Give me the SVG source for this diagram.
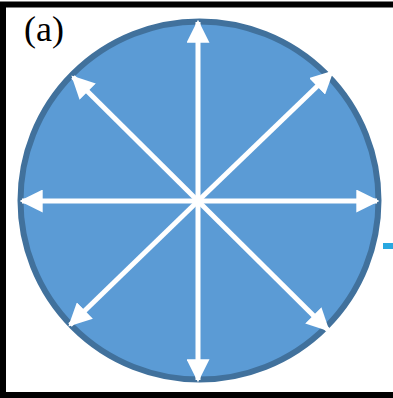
<svg xmlns="http://www.w3.org/2000/svg" width="393" height="398" viewBox="0 0 393 398">
<defs>
<style>
.arr{stroke:#fff;stroke-width:5;fill:none;marker-end:url(#ah)}
</style>
<marker id="ah" viewBox="0 0 10 10" refX="9" refY="5" markerUnits="userSpaceOnUse" markerWidth="23" markerHeight="23" orient="auto">
<path d="M0,0 L10,5 L0,10 Z" fill="#fff"/>
</marker>
</defs>
<rect x="0" y="0" width="393" height="398" fill="#fff"/>
<path d="M393,4.5 H3 V395 H393" fill="none" stroke="#000" stroke-width="6"/>
<rect x="383" y="243" width="10" height="6" fill="#29A8E0"/>
<g id="circle">
<circle cx="199.5" cy="200.5" r="179" fill="#5B9BD5" stroke="#41719C" stroke-width="6"/>
</g>
<g id="connectors">
<line class="arr" x1="198" y1="201" x2="198" y2="22"/>
<line class="arr" x1="198" y1="201" x2="198" y2="380"/>
<line class="arr" x1="198" y1="201" x2="22" y2="201"/>
<line class="arr" x1="198" y1="201" x2="377" y2="201"/>
<line class="arr" x1="198" y1="201" x2="73" y2="77"/>
<line class="arr" x1="198" y1="201" x2="332" y2="72"/>
<line class="arr" x1="198" y1="201" x2="70" y2="325"/>
<line class="arr" x1="198" y1="201" x2="328" y2="330"/>
</g>
<g id="label">
<text x="24" y="41" font-family="Liberation Serif, serif" font-size="36" fill="#000">(a)</text>
</g>
</svg>
